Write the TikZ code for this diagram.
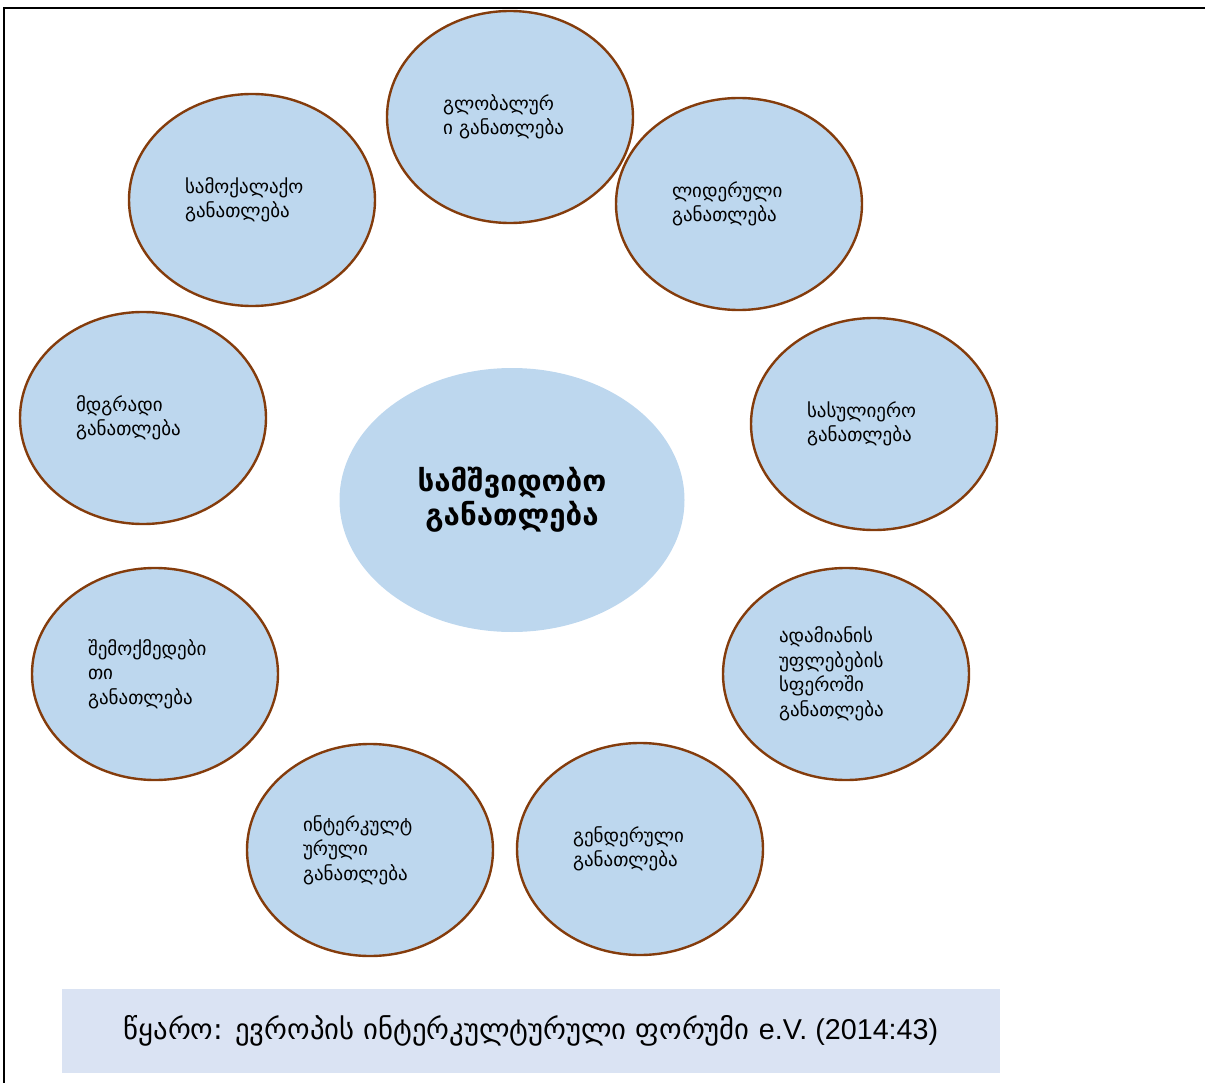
\documentclass[tikz,border=0pt]{standalone}
\usepackage{fontspec}
\setmainfont{DejaVu Sans}
\newfontfamily\latinfont{Liberation Sans}
\usepackage{xcolor}
\usepackage{tikz}
\usetikzlibrary{shapes.geometric}
\definecolor{bubblefill}{HTML}{BDD7EE}
\definecolor{bubbleline}{HTML}{843C0C}
\definecolor{notefill}{HTML}{DAE3F3}
\hyphenpenalty=10000

\begin{document}
\begin{tikzpicture}[x=1pt,y=-1pt,fill=bubblefill,
  bubble/.style={ellipse,draw=bubbleline,line width=2.4pt,fill,minimum width=246pt,minimum height=212pt,inner sep=0pt,text width=134pt,align=left,font=\fontsize{19}{24.5}\selectfont}]
%\draw[help lines,step=100] (0,0) grid (1205,1083);
\useasboundingbox (0,0) rectangle (1205,1083);
\draw[line width=2pt] (4,1083) -- (4,8) -- (1205,8);
\path (0,0)
(512,500) node(core) [ellipse,fill,minimum width=345pt,minimum height=264pt,align=center,font=\bfseries\fontsize{29.5}{34}\selectfont] {სამშვიდობო\\განათლება}
(510,117) node(global) [bubble] {გლობალურ\\ი განათლება}
(739,204) node(leader) [bubble] {ლიდერული\\განათლება}
(874,424) node(spirit) [bubble] {სასულიერო\\განათლება}
(846,674) node(rights) [bubble] {ადამიანის\\უფლებების\\სფეროში\\განათლება}
(640,849) node(gender) [bubble] {გენდერული\\განათლება}
(370,850) node(intercult) [bubble] {ინტერკულტ\\ურული\\განათლება}
(155,674) node(creative) [bubble] {შემოქმედები\\თი\\განათლება}
(143,418) node(sustain) [bubble] {მდგრადი\\განათლება}
(252,200) node(civic) [bubble] {სამოქალაქო\\განათლება};
\node(source) [rectangle,fill=notefill,minimum width=938pt,minimum height=84pt,font=\fontsize{28.7}{32}\selectfont] at (531,1031) {წყარო: ევროპის ინტერკულტურული ფორუმი {\latinfont e.V. (2014:43)}};
\end{tikzpicture}
\end{document}
